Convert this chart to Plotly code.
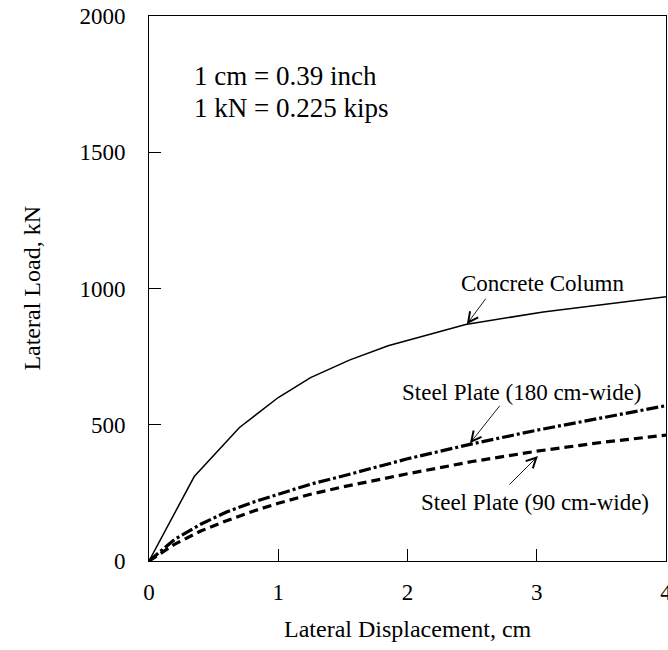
import plotly.graph_objects as go

# Data
concrete_x = [0, 0.35, 0.7, 1.0, 1.25, 1.55, 1.85, 2.45, 3.05, 4.0]
concrete_y = [0, 310, 490, 600, 673, 737, 790, 868, 914, 970]

steel180_x = [0, 0.2, 0.4, 0.6, 0.8, 1.0, 1.25, 1.5, 2.0, 2.5, 3.0, 3.5, 4.0]
steel180_y = [0, 80, 135, 180, 215, 245, 282, 312, 375, 430, 480, 525, 570]

steel90_x = [0, 0.2, 0.4, 0.6, 0.8, 1.0, 1.25, 1.5, 2.0, 2.5, 3.0, 3.5, 4.0]
steel90_y = [0, 62, 110, 148, 182, 212, 245, 272, 320, 365, 403, 435, 462]

x_ticks = [0, 1, 2, 3, 4]
y_ticks = [0, 500, 1000, 1500, 2000]

FONT = "Liberation Serif, Times New Roman, serif"

fig = go.Figure()
fig.add_trace(go.Scatter(x=concrete_x, y=concrete_y, mode="lines",
                         line=dict(color="black", width=1.5), showlegend=False))
fig.add_trace(go.Scatter(x=steel180_x, y=steel180_y, mode="lines",
                         line=dict(color="black", width=3.2, dash="12px,3px,3px,3px"),
                         showlegend=False))
fig.add_trace(go.Scatter(x=steel90_x, y=steel90_y, mode="lines",
                         line=dict(color="black", width=3.2, dash="9px,5px"),
                         showlegend=False))

axis_common = dict(showgrid=False, zeroline=False, showline=True, linecolor="black",
                   linewidth=1, mirror=True, ticks="inside", ticklen=12, tickwidth=1,
                   tickcolor="black", ticklabeloverflow="allow", automargin=False,
                   tickfont=dict(family=FONT, size=23, color="black"))

fig.update_xaxes(range=[0, 4], tickvals=x_ticks, ticklabelstandoff=10, **axis_common)
fig.update_yaxes(range=[0, 2000], tickvals=y_ticks, ticklabelstandoff=18, **axis_common)

arrow_style = dict(showarrow=True, arrowhead=5, arrowsize=2.2, arrowwidth=0.9,
                   arrowcolor="black", xref="x", yref="y", text="")

annotations = [
    dict(text="Lateral Displacement, cm", xref="paper", yref="paper", x=0.5, y=-0.124,
         showarrow=False, font=dict(family=FONT, size=24, color="black"),
         xanchor="center", yanchor="middle"),
    dict(text="Lateral Load, kN", xref="paper", yref="paper", x=-0.228, y=0.5,
         showarrow=False, textangle=-90, font=dict(family=FONT, size=24, color="black"),
         xanchor="center", yanchor="middle"),
    dict(text="1 cm = 0.39 inch", xref="x", yref="y", x=0.33, y=1781,
         showarrow=False, font=dict(family=FONT, size=27, color="black"),
         xanchor="left", yanchor="middle"),
    dict(text="1 kN = 0.225 kips", xref="x", yref="y", x=0.33, y=1663,
         showarrow=False, font=dict(family=FONT, size=27, color="black"),
         xanchor="left", yanchor="middle"),
    dict(text="Concrete Column", xref="x", yref="y", x=3.048, y=1019, showarrow=False,
         font=dict(family=FONT, size=23, color="black"), xanchor="center", yanchor="middle"),
    dict(text="Steel Plate (180 cm-wide)", xref="x", yref="y", x=2.889, y=620, showarrow=False,
         font=dict(family=FONT, size=23, color="black"), xanchor="center", yanchor="middle"),
    dict(text="Steel Plate (90 cm-wide)", xref="x", yref="y", x=2.986, y=215, showarrow=False,
         font=dict(family=FONT, size=23, color="black"), xanchor="center", yanchor="middle"),
    # arrows
    dict(x=2.459, y=869, ax=20, ay=-27, **arrow_style),
    dict(x=2.483, y=432, ax=31, ay=-39, **arrow_style),
    dict(x=3.009, y=385, ax=-30, ay=30, **arrow_style),
]

fig.update_layout(width=668, height=650, plot_bgcolor="white", paper_bgcolor="white",
                  margin=dict(l=149, r=2, t=16, b=89), annotations=annotations,
                  font=dict(family=FONT, color="black"))

fig.write_html("out.html")
